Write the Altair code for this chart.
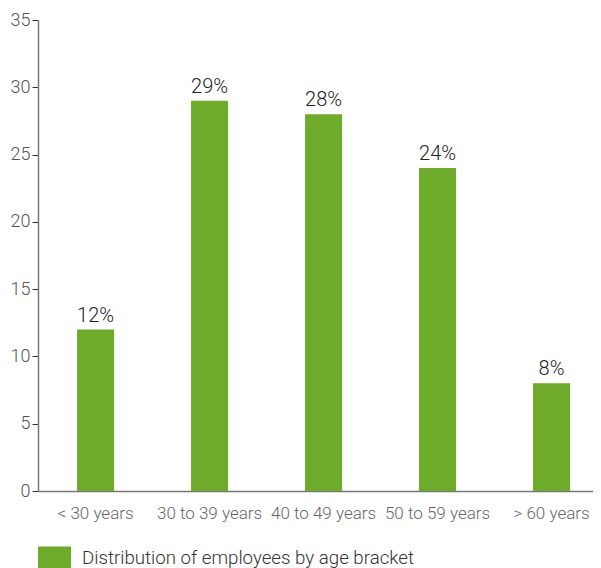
import altair as alt
import pandas as pd

categories = ["< 30 years", "30 to 39 years", "40 to 49 years", "50 to 59 years", "> 60 years"]
values = [12, 29, 28, 24, 8]
labels = ["12%", "29%", "28%", "24%", "8%"]
series_name = "Distribution of employees by age bracket"
y_ticks = [0, 5, 10, 15, 20, 25, 30, 35]

df = pd.DataFrame({"cat": categories, "val": values, "lab": labels,
                   "series": [series_name] * len(categories)})

GREEN = "#6fab2a"
FONT = "Roboto"

# plot area 555 px wide starting at x=38; bars 37 px wide on a 114 px step
base = alt.Chart(df).encode(
    x=alt.X("cat:N", sort=categories,
            scale=alt.Scale(paddingInner=0.675, paddingOuter=0.272, align=0.63),
            axis=alt.Axis(title=None, labelAngle=0, ticks=False, labelPadding=14,
                          labelFontSize=17, labelColor="#666", labelFont=FONT,
                          labelFontWeight=300,
                          domainColor="#777", domainWidth=1.5)),
    y=alt.Y("val:Q", scale=alt.Scale(domain=[0, 35], nice=False),
            axis=alt.Axis(title=None, values=y_ticks, grid=False, tickSize=6,
                          tickColor="#333", tickWidth=1, labelPadding=2,
                          labelFontSize=18, labelColor="#555", labelFont=FONT,
                          labelFontWeight=300,
                          domainColor="#777", domainWidth=1.5)),
)

bars = base.mark_bar().encode(
    color=alt.Color("series:N", scale=alt.Scale(range=[GREEN]),
                    legend=alt.Legend(title=None, orient="none", legendX=0, legendY=521,
                                      symbolType="M-1,-0.667H1V0.667H-1Z", symbolSize=1089,
                                      symbolOpacity=1, symbolStrokeWidth=0,
                                      labelFontSize=18.7, labelColor="#333", labelFont=FONT,
                                      labelFontWeight=300, labelLimit=0,
                                      labelOffset=11, padding=0))
)

text = base.mark_text(dy=-4, baseline="bottom", fontSize=20, color="#222",
                      font=FONT, fontWeight=300).encode(text="lab:N")

chart = (bars + text).properties(
    width=555, height=471,
    autosize=alt.AutoSizeParams(type="none"),
    padding={"left": 30, "top": 12, "right": 0, "bottom": 100},
).configure_view(stroke=None)

chart.save("out.html", embed_options={"renderer": "svg", "actions": False})
